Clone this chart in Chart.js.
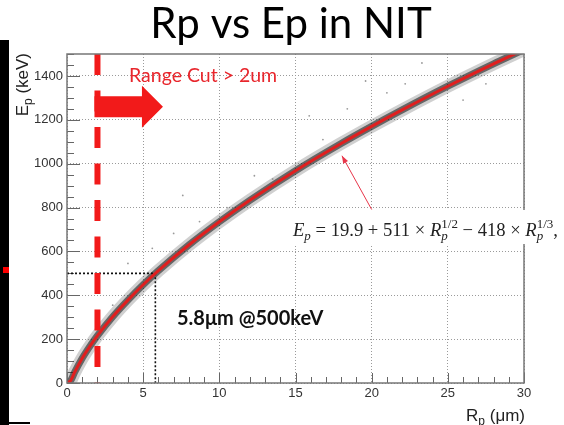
<!DOCTYPE html>
<html>
<head>
<meta charset="utf-8">
<script src="https://cdn.jsdelivr.net/npm/chart.js@4.4.1/dist/chart.umd.min.js"></script>
<style>
html,body{margin:0;padding:0;background:#fff;}
#wrap{width:564px;height:425px;position:relative;}
</style>
</head>
<body>
<div id="wrap"><canvas id="c" width="564" height="425"></canvas></div>
<script>
// ---- data ----
const chartTitle = "Rp vs Ep in NIT";
const xTicks = [0, 5, 10, 15, 20, 25, 30];
const yTicks = [0, 200, 400, 600, 800, 1000, 1200, 1400];
// fitted curve (range in um, energy in keV)
const fitRange  = [0, 0.25, 0.5, 1, 1.5, 2, 3, 4, 5, 6, 8, 10, 12, 15, 18, 20, 22, 25, 28, 30];
const fitEnergy = [0, 12, 49, 113, 167, 216, 302, 378, 448, 512, 629, 735, 833, 968, 1092, 1170, 1245, 1353, 1455, 1520];
// sparse outlier dots around the band
const outRange  = [23.3, 21.0, 22.2, 19.6, 18.4, 15.9, 27.5, 7.6, 12.3, 8.7, 7.0, 5.6, 4.0, 26.0, 13.5, 10.5, 3.0, 16.8];
const outEnergy = [1459, 1323, 1364, 1377, 1250, 1218, 1364, 855, 945, 736, 682, 614, 545, 1290, 930, 800, 355, 1110];
// range cut marker
const cutRange = 2;
const cutEnergy = [1500, 0];
// 500 keV reference
const refRange = 5.8;
const refEnergy = 500;
// pointer from the curve to the formula
const ptrRange  = [20.0, 18.05];
const ptrEnergy = [791, 1036];
// arrow of range cut (data anchors)
const arrowStart = 2, arrowHeadBase = 4.92, arrowTip = 6.3, arrowEnergy = 1260;

const labelCut = "Range Cut > 2um";
const labelRef = "5.8\u03bcm @500keV";

const pts = (xs, ys) => xs.map((x, i) => ({x, y: ys[i]}));

const RED = '#f21a1a';

const decor = {
  id: 'decor',
  beforeDraw(chart) {
    const ctx = chart.ctx;
    ctx.save();
    ctx.fillStyle = '#fff';
    ctx.fillRect(0, 0, chart.width, chart.height);
    ctx.restore();
  },
  beforeDatasetsDraw(chart) {
    const {ctx, chartArea: a, scales: {x, y}} = chart;
    ctx.save();
    ctx.strokeStyle = '#666';
    ctx.lineWidth = 1;
    for (let v = 0; v <= 1500; v += 50) {
      const py = Math.round(y.getPixelForValue(v)) + 0.5;
      const len = v % 200 === 0 ? 13 : 7;
      ctx.beginPath(); ctx.moveTo(a.left, py); ctx.lineTo(a.left + len, py); ctx.stroke();
    }
    for (let v = 0; v <= 30; v += 1) {
      const px = Math.round(x.getPixelForValue(v)) + 0.5;
      const len = v % 5 === 0 ? 10 : 6;
      ctx.beginPath(); ctx.moveTo(px, a.bottom); ctx.lineTo(px, a.bottom - len); ctx.stroke();
    }
    ctx.restore();
  },
  afterDatasetsDraw(chart) {
    const {ctx, chartArea: a, scales: {x, y}} = chart;
    ctx.save();
    ctx.strokeStyle = '#777';
    ctx.lineWidth = 1.5;
    ctx.strokeRect(a.left, a.top, a.right - a.left, a.bottom - a.top);

    // red arrow
    const xs = x.getPixelForValue(arrowStart) - 3;
    const xb = x.getPixelForValue(arrowHeadBase);
    const xt = x.getPixelForValue(arrowTip);
    const yc = y.getPixelForValue(arrowEnergy);
    ctx.fillStyle = RED;
    ctx.beginPath();
    ctx.moveTo(xs, yc - 10.5);
    ctx.lineTo(xb, yc - 10.5);
    ctx.lineTo(xb, yc - 21);
    ctx.lineTo(xt, yc);
    ctx.lineTo(xb, yc + 21);
    ctx.lineTo(xb, yc + 10.5);
    ctx.lineTo(xs, yc + 10.5);
    ctx.closePath();
    ctx.fill();

    // pointer arrow head at curve end
    const p0x = x.getPixelForValue(ptrRange[0]), p0y = y.getPixelForValue(ptrEnergy[0]);
    const p1x = x.getPixelForValue(ptrRange[1]), p1y = y.getPixelForValue(ptrEnergy[1]);
    const ang = Math.atan2(p1y - p0y, p1x - p0x);
    ctx.fillStyle = '#e8364a';
    ctx.beginPath();
    ctx.moveTo(p1x, p1y);
    ctx.lineTo(p1x - 8 * Math.cos(ang - 0.35), p1y - 8 * Math.sin(ang - 0.35));
    ctx.lineTo(p1x - 8 * Math.cos(ang + 0.35), p1y - 8 * Math.sin(ang + 0.35));
    ctx.closePath();
    ctx.fill();

    // texts
    ctx.fillStyle = '#e8262c';
    ctx.font = '19.5px Lato';
    ctx.textBaseline = 'alphabetic';
    ctx.textAlign = 'left';
    ctx.fillText(labelCut, 129, 82);

    ctx.fillStyle = '#111';
    ctx.font = 'bold 20px Lato';
    ctx.fillText(labelRef, 177, 325);

    // formula box
    ctx.fillStyle = '#fff';
    ctx.fillRect(286, 210, 278, 34);
    drawFormula(ctx, 293, 236);

    // axis titles
    ctx.fillStyle = '#222';
    ctx.font = '17px "Liberation Sans"';
    ctx.textAlign = 'right';
    const xr = a.right + 1;
    const t2 = ' (\u03bcm)';
    const w2 = ctx.measureText(t2).width;
    ctx.fillText(t2, xr, 421);
    ctx.font = '12px "Liberation Sans"';
    const wp = ctx.measureText('p').width;
    ctx.fillText('p', xr - w2, 425);
    ctx.font = '17px "Liberation Sans"';
    ctx.fillText('R', xr - w2 - wp, 421);

    ctx.save();
    ctx.translate(28, a.top - 1);
    ctx.rotate(-Math.PI / 2);
    ctx.textAlign = 'right';
    const t1 = ' (keV)';
    const w1 = ctx.measureText(t1).width;
    ctx.fillText(t1, 0, 0);
    ctx.font = '12px "Liberation Sans"';
    const wp2 = ctx.measureText('p').width;
    ctx.fillText('p', -w1, 4);
    ctx.font = '17px "Liberation Sans"';
    ctx.fillText('E', -w1 - wp2, 0);
    ctx.restore();

    // title
    ctx.fillStyle = '#000';
    ctx.font = '42px Lato';
    ctx.textAlign = 'center';
    ctx.fillText(chartTitle, 291, 38);

    // slide artefacts at left
    ctx.fillStyle = '#000';
    ctx.fillRect(0, 40, 9, 385);
    ctx.fillRect(9, 422, 21, 2);
    ctx.fillStyle = '#f00';
    ctx.fillRect(3, 267, 6, 6);
    ctx.restore();
  }
};

function drawFormula(ctx, x0, base) {
  const fs = 18.6;
  const it = `italic ${fs}px "Liberation Serif"`;
  const rm = `${fs}px "Liberation Serif"`;
  const sit = `italic ${Math.round(fs*0.68)}px "Liberation Serif"`;
  const srm = `${Math.round(fs*0.68)}px "Liberation Serif"`;
  ctx.fillStyle = '#222';
  ctx.textAlign = 'left';
  let x = x0;
  const put = (txt, font) => { ctx.font = font; ctx.fillText(txt, x, base); x += ctx.measureText(txt).width; };
  const subsup = (sub, sup) => {
    ctx.font = sit; const ws = ctx.measureText(sub).width; ctx.fillText(sub, x, base + 4);
    ctx.font = srm; const wu = ctx.measureText(sup).width; ctx.fillText(sup, x, base - 8);
    x += Math.max(ws, wu);
  };
  put('E', it);
  ctx.font = sit; ctx.fillText('p', x, base + 4); x += ctx.measureText('p').width;
  put(' = 19.9 + 511 \u00d7 ', rm);
  put('R', it);
  subsup('p', '1/2');
  put(' \u2212 418 \u00d7 ', rm);
  put('R', it);
  subsup('p', '1/3');
  put(',', rm);
}

const tickFont = { family: '"Liberation Sans", Arial, sans-serif', size: 13 };

const ctx = document.getElementById('c').getContext('2d');
new Chart(ctx, {
  type: 'scatter',
  data: {
    datasets: [
      { data: pts([cutRange, cutRange], cutEnergy), showLine: true, borderColor: RED, borderWidth: 6,
        borderDash: [21, 15.5], pointRadius: 0, order: 0 },
      { data: pts(fitRange, fitEnergy), showLine: true, borderColor: '#e01f1f', borderWidth: 3,
        cubicInterpolationMode: 'monotone', pointRadius: 0, order: 1 },
      { data: pts(ptrRange, ptrEnergy), showLine: true, borderColor: '#e8364a', borderWidth: 1,
        pointRadius: 0, order: 2 },
      { data: [{x: 0, y: refEnergy}, {x: refRange, y: refEnergy}], showLine: true, borderColor: '#111',
        borderWidth: 1.6, borderDash: [2, 2], pointRadius: 0, order: 3 },
      { data: [{x: refRange, y: refEnergy}, {x: refRange, y: 0}], showLine: true, borderColor: '#111',
        borderWidth: 1.6, borderDash: [2, 2], pointRadius: 0, order: 3 },
      { data: pts(outRange, outEnergy), showLine: false, backgroundColor: '#999', borderWidth: 0,
        pointRadius: 0.9, order: 4 },
      { data: pts(fitRange, fitEnergy), showLine: true, borderColor: 'rgba(15,15,15,0.55)', borderWidth: 7,
        cubicInterpolationMode: 'monotone', pointRadius: 0, order: 5 },
      { data: pts(fitRange, fitEnergy), showLine: true, borderColor: 'rgba(40,40,40,0.22)', borderWidth: 13,
        cubicInterpolationMode: 'monotone', pointRadius: 0, order: 6 }
    ]
  },
  options: {
    responsive: false,
    animation: false,
    events: [],
    layout: { padding: { left: 0, top: 54, right: 40, bottom: 0 } },
    plugins: { legend: { display: false }, tooltip: { enabled: false }, title: { display: false } },
    scales: {
      x: {
        type: 'linear', min: 0, max: 30,
        afterBuildTicks: s => { s.ticks = xTicks.map(v => ({value: v})); },
        afterFit: s => { s.height = 42; },
        grid: { color: '#9a9a9a', lineWidth: 1, drawTicks: false },
        border: { display: false, dash: [1, 2] },
        ticks: { color: '#333', font: tickFont, padding: 3, maxRotation: 0, callback: v => String(v) }
      },
      y: {
        type: 'linear', min: 0, max: 1500,
        afterBuildTicks: s => { s.ticks = yTicks.map(v => ({value: v})); },
        afterFit: s => { s.width = 67; },
        grid: { color: '#9a9a9a', lineWidth: 1, drawTicks: false },
        border: { display: false, dash: [1, 2] },
        ticks: { color: '#333', font: tickFont, padding: 4, callback: v => String(v) }
      }
    }
  },
  plugins: [decor]
});
</script>
</body>
</html>
